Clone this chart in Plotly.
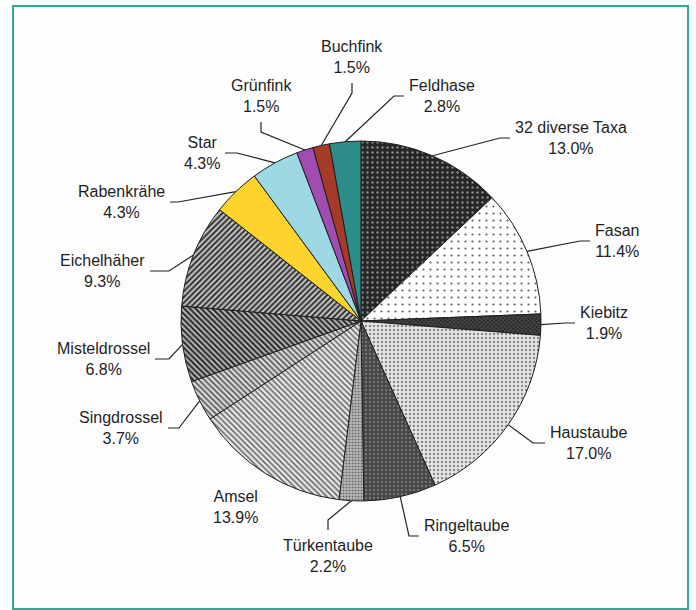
import math
import plotly.graph_objects as go

# ---------------- data ----------------
labels = ["32 diverse Taxa", "Fasan", "Kiebitz", "Haustaube", "Ringeltaube",
          "Türkentaube", "Amsel", "Singdrossel", "Misteldrossel", "Eichelhäher",
          "Rabenkrähe", "Star", "Grünfink", "Buchfink", "Feldhase"]
values = [13.0, 11.4, 1.9, 17.0, 6.5, 2.2, 13.9, 3.7, 6.8, 9.3, 4.3, 4.3, 1.5, 1.5, 2.8]

# ---------------- styles ----------------
patterns = [
    dict(shape=".", bgcolor="#262626", fgcolor="#8a8a8a", size=5, solidity=0.18),
    dict(shape=".", bgcolor="#ffffff", fgcolor="#606060", size=7, solidity=0.08),
    dict(shape="x", bgcolor="#2c2c2c", fgcolor="#6a6a6a", size=3, solidity=0.3),
    dict(shape=".", bgcolor="#e6e6e6", fgcolor="#8c8c8c", size=4, solidity=0.3),
    dict(shape=".", bgcolor="#454545", fgcolor="#747474", size=4, solidity=0.3),
    dict(shape=".", bgcolor="#bdbdbd", fgcolor="#6a6a6a", size=3, solidity=0.4),
    dict(shape="\\", bgcolor="#e4e4e4", fgcolor="#5a5a5a", size=4, solidity=0.35),
    dict(shape="\\", bgcolor="#dadada", fgcolor="#555555", size=4, solidity=0.4),
    dict(shape="\\", bgcolor="#c4c4c4", fgcolor="#2e2e2e", size=4, solidity=0.55),
    dict(shape="/", bgcolor="#c8c8c8", fgcolor="#303030", size=4, solidity=0.5),
    dict(shape="", bgcolor="#fcd42c"),
    dict(shape="", bgcolor="#9ed8e4"),
    dict(shape="", bgcolor="#a04cb0"),
    dict(shape="", bgcolor="#a53a28"),
    dict(shape="", bgcolor="#2b8c8a"),
]
colors = [p["bgcolor"] for p in patterns]

W, H = 696, 610
CX, CY, R = 361, 321, 180
FONT = dict(family="Liberation Sans, Arial, sans-serif", size=16, color="#1f1f1f")

# label placement: side, anchor x (text edge / centre), anchor y, leader segment length
label_pos = {
    "32 diverse Taxa": ("right", 513, 138, 10),
    "Fasan": ("right", 593, 241, 10),
    "Kiebitz": ("right", 578, 323, 10),
    "Haustaube": ("right", 548, 443, 12),
    "Ringeltaube": ("right", 422, 536, 10),
    "Feldhase": ("right", 407, 96, 10),
    "Star": ("left", 222, 153, 12),
    "Rabenkrähe": ("left", 167, 202, 8),
    "Eichelhäher": ("left", 147, 271, 19),
    "Misteldrossel": ("left", 152, 359, 14),
    "Singdrossel": ("left", 165, 428, 11),
    "Grünfink": ("down", 261, 117, 10),
    "Buchfink": ("down", 352, 78, 10),
    "Türkentaube": ("up", 328, 535, 10),
    "Amsel": ("none", 235, 507, 0),
}

total = sum(values)
fig = go.Figure()

fig.add_trace(go.Pie(
    labels=labels, values=values, sort=False, direction="clockwise", rotation=0,
    textinfo="none", showlegend=False, hoverinfo="label+value",
    marker=dict(colors=colors, pattern=dict(
        shape=[p["shape"] for p in patterns],
        bgcolor=[p["bgcolor"] for p in patterns],
        fgcolor=[p.get("fgcolor", "#000000") for p in patterns],
        size=[p.get("size", 6) for p in patterns],
        solidity=[p.get("solidity", 0.3) for p in patterns],
        fillmode="replace"),
        line=dict(color="#1e1e1e", width=1)),
    domain=dict(x=[(CX - R) / W, (CX + R) / W], y=[1 - (CY + R) / H, 1 - (CY - R) / H]),
))

# leader lines computed from slice mid-angles
lx, ly = [], []
cum = 0.0
annotations = []
for lab, v in zip(labels, values):
    mid = (cum + v / 2) / total
    cum += v
    ang = 2 * math.pi * mid
    ex, ey = CX + R * math.sin(ang), CY - R * math.cos(ang)
    side, axp, ayp, hl = label_pos[lab]
    txt = f"{lab}<br>{v:.1f}%"
    if side == "right":
        end = (axp - 3, ayp); elbow = (axp - 3 - hl, ayp)
        xa, ya = "left", "middle"
    elif side == "left":
        end = (axp + 3, ayp); elbow = (axp + 3 + hl, ayp)
        xa, ya = "right", "middle"
    elif side == "down":
        end = (axp, ayp + 5); elbow = (axp, ayp + 5 + hl)
        xa, ya = "center", "bottom"
    elif side == "up":
        end = (axp, ayp - 5); elbow = (axp, ayp - 5 - hl)
        xa, ya = "center", "top"
    else:
        end = elbow = None
        xa, ya = "center", "middle"
    if end is not None:
        lx += [end[0], elbow[0], ex, None]
        ly += [end[1], elbow[1], ey, None]
    annotations.append(dict(x=axp, y=ayp, xref="x", yref="y", text=txt, showarrow=False,
                            xanchor=xa, yanchor=ya, align="center", font=FONT))

fig.add_trace(go.Scatter(x=lx, y=ly, mode="lines", line=dict(color="#222222", width=1.2),
                         hoverinfo="skip", showlegend=False))

fig.update_layout(
    width=W, height=H, margin=dict(l=0, r=0, t=0, b=0),
    paper_bgcolor="#fdfdfd", plot_bgcolor="rgba(0,0,0,0)",
    xaxis=dict(range=[0, W], visible=False, fixedrange=True),
    yaxis=dict(range=[H, 0], visible=False, fixedrange=True),
    annotations=annotations,
    shapes=[dict(type="rect", xref="paper", yref="paper",
                 x0=13 / W, x1=688 / W, y0=1 - 609 / H, y1=1 - 6 / H,
                 line=dict(color="#34a894", width=2))],
)

fig.write_html("out.html")
